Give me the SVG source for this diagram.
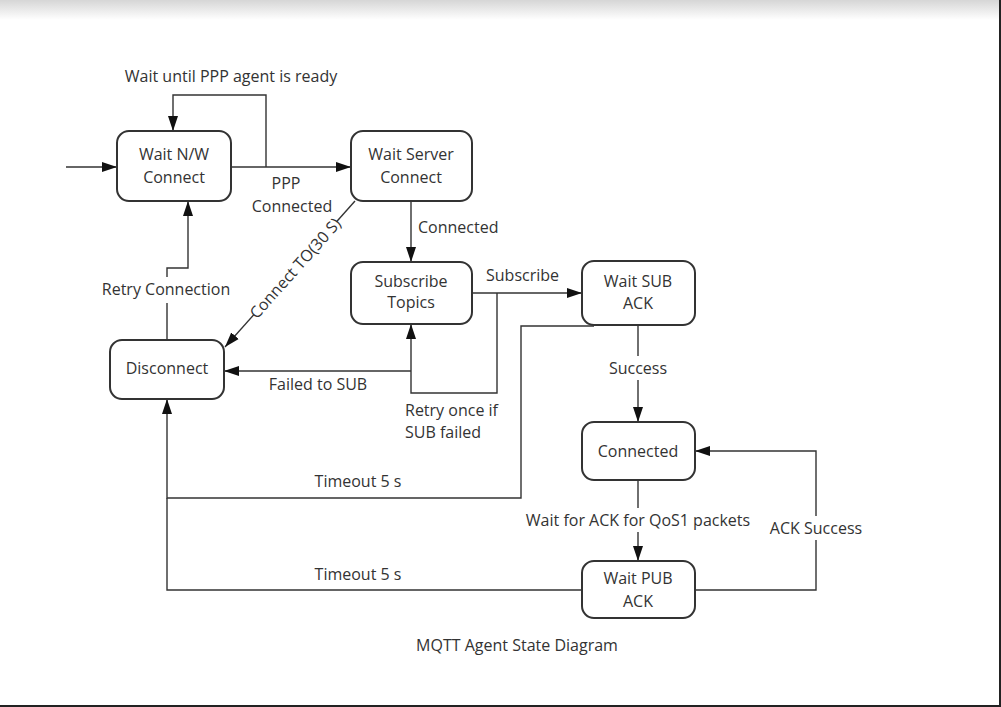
<svg xmlns="http://www.w3.org/2000/svg" width="1001" height="707" viewBox="0 0 1001 707">
<defs>
<linearGradient id="topfade" x1="0" y1="0" x2="0" y2="1">
<stop offset="0" stop-color="#d6d6d6"/>
<stop offset="1" stop-color="#ffffff"/>
</linearGradient>
<marker id="arr" markerUnits="userSpaceOnUse" markerWidth="16" markerHeight="12" viewBox="0 0 16 12" refX="15" refY="6" orient="auto">
<path d="M0,1 L15,6 L0,11 z" fill="#111"/>
</marker>
<style>
.node rect{fill:#fff;stroke:#333;stroke-width:2}
.node text,.lbl{font-family:"Open Sans","DejaVu Sans",sans-serif;font-size:16px;fill:#333;text-anchor:middle}
.lbl.start{text-anchor:start}
.edge{fill:none;stroke:#333;stroke-width:1.4}
.bg{fill:#fff}
</style>
</defs>
<rect x="0" y="0" width="1001" height="707" fill="#fff"/>
<rect x="0" y="0" width="1001" height="20" fill="url(#topfade)"/>
<line x1="1000" y1="0" x2="1000" y2="707" stroke="#222" stroke-width="2"/>
<line x1="0" y1="706" x2="1001" y2="706" stroke="#222" stroke-width="2"/>

<g id="connectors">
<path class="edge" d="M66,167 H117" marker-end="url(#arr)"/>
<path class="edge" d="M231,167 H351" marker-end="url(#arr)"/>
<path class="edge" d="M266,167 V95 H173 V131" marker-end="url(#arr)"/>
<path class="edge" d="M411,202 V262" marker-end="url(#arr)"/>
<path class="edge" d="M355,201 L225,347" marker-end="url(#arr)"/>
<path class="edge" d="M472,293 H582" marker-end="url(#arr)"/>
<path class="edge" d="M497,293 V393 H411 V324" marker-end="url(#arr)"/>
<path class="edge" d="M411,371 H224" marker-end="url(#arr)"/>
<path class="edge" d="M638,325 V422" marker-end="url(#arr)"/>
<path class="edge" d="M594,326 H521 V498 H167 V399" marker-end="url(#arr)"/>
<path class="edge" d="M638,480 V561" marker-end="url(#arr)"/>
<path class="edge" d="M695,590 H816 V451 H695" marker-end="url(#arr)"/>
<path class="edge" d="M582,590 H167 V498"/>
<path class="edge" d="M167,340 V268 H188 V201" marker-end="url(#arr)"/>

<text class="lbl" x="231" y="82">Wait until PPP agent is ready</text>
<text class="lbl" x="286" y="189">PPP</text>
<text class="lbl" x="292" y="212">Connected</text>
<text class="lbl start" x="418" y="233">Connected</text>
<g transform="translate(295,268) rotate(-48.3)">
<rect class="bg" x="-62" y="-9" width="124" height="18"/>
<text class="lbl" x="0" y="6">Connect TO(30 S)</text>
</g>
<text class="lbl start" x="486" y="281">Subscribe</text>
<text class="lbl start" x="405" y="416">Retry once if</text>
<text class="lbl start" x="405" y="438">SUB failed</text>
<text class="lbl" x="318" y="390">Failed to SUB</text>
<rect class="bg" x="605" y="356" width="66" height="24"/>
<text class="lbl" x="638" y="374">Success</text>
<text class="lbl" x="358" y="487">Timeout 5 s</text>
<text class="lbl" x="358" y="580">Timeout 5 s</text>
<rect class="bg" x="522" y="508" width="232" height="24"/>
<text class="lbl" x="638" y="526">Wait for ACK for QoS1 packets</text>
<rect class="bg" x="768" y="516" width="96" height="24"/>
<text class="lbl" x="816" y="534">ACK Success</text>
<rect class="bg" x="100" y="277" width="134" height="26"/>
<text class="lbl" x="166" y="295">Retry Connection</text>
</g>

<g id="wait-nw" class="node">
<rect x="117" y="131" width="114" height="70" rx="12"/>
<text x="174" y="160">Wait N/W</text>
<text x="174" y="183">Connect</text>
</g>
<g id="wait-server" class="node">
<rect x="351" y="131" width="121" height="70" rx="12"/>
<text x="411" y="160">Wait Server</text>
<text x="411" y="183">Connect</text>
</g>
<g id="subscribe-topics" class="node">
<rect x="351" y="262" width="121" height="62" rx="12"/>
<text x="411" y="287">Subscribe</text>
<text x="411" y="308">Topics</text>
</g>
<g id="wait-sub-ack" class="node">
<rect x="582" y="261" width="113" height="64" rx="12"/>
<text x="638" y="287">Wait SUB</text>
<text x="638" y="309">ACK</text>
</g>
<g id="disconnect" class="node">
<rect x="110" y="340" width="114" height="59" rx="12"/>
<text x="167" y="374">Disconnect</text>
</g>
<g id="connected" class="node">
<rect x="582" y="422" width="113" height="58" rx="12"/>
<text x="638" y="457">Connected</text>
</g>
<g id="wait-pub-ack" class="node">
<rect x="582" y="561" width="113" height="57" rx="12"/>
<text x="638" y="584">Wait PUB</text>
<text x="638" y="607">ACK</text>
</g>

<text class="lbl" x="517" y="651">MQTT Agent State Diagram</text>
</svg>
